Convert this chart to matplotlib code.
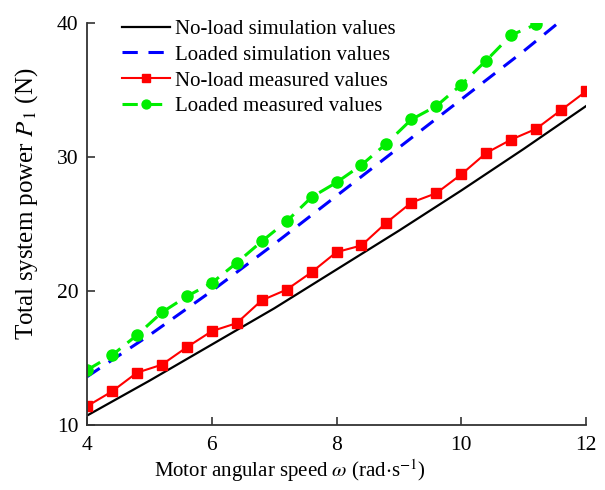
import matplotlib
matplotlib.use("Agg")
import matplotlib.pyplot as plt

plt.rcParams["font.family"] = ["Liberation Serif", "DejaVu Serif"]
plt.rcParams["mathtext.fontset"] = "stix"

# simulation curves, read at integer speeds
sim_speed = [4, 5, 6, 7, 8, 9, 10, 11, 12]
noload_sim = [10.7, 13.3, 16.0, 18.7, 21.6, 24.5, 27.5, 30.6, 33.8]
loaded_sim = [13.6, 16.7, 20.0, 23.5, 27.1, 30.7, 34.3, 37.9, 41.7]

# measured points, every 0.4 rad/s
meas_speed = [4.0, 4.4, 4.8, 5.2, 5.6, 6.0, 6.4, 6.8, 7.2, 7.6, 8.0,
              8.4, 8.8, 9.2, 9.6, 10.0, 10.4, 10.8, 11.2, 11.6, 12.0]
noload_meas = [11.4, 12.5, 13.9, 14.5, 15.8, 17.0, 17.6, 19.3, 20.1, 21.4, 22.9,
               23.4, 25.1, 26.6, 27.3, 28.7, 30.3, 31.3, 32.1, 33.5, 34.9]
loaded_meas = [14.1, 15.2, 16.7, 18.4, 19.6, 20.6, 22.1, 23.7, 25.2, 27.0, 28.1,
               29.4, 31.0, 32.8, 33.8, 35.4, 37.2, 39.1, 39.9]

fig = plt.figure(figsize=(6.05, 4.90), dpi=100)
ax = fig.add_axes([0.1438, 0.1327, 0.8248, 0.8203])

ax.plot(sim_speed, noload_sim, color="black", lw=1.6, label="No-load simulation values")
ax.plot(sim_speed, loaded_sim, color="#0000ff", lw=2.2, dashes=(5, 3.5), label="Loaded simulation values")
ax.plot(meas_speed, noload_meas, color="#ff0000", lw=1.5, marker="s", ms=7,
        label="No-load measured values")
ax.plot(meas_speed[:len(loaded_meas)], loaded_meas, color="#00ee00", lw=2.2, dashes=(5, 3),
        marker="o", ms=8, label="Loaded measured values")

ax.set_xlim(4, 12)
ax.set_ylim(10, 40)
ax.set_xticks([4, 6, 8, 10, 12])
ax.set_yticks([10, 20, 30, 40])
ax.spines["top"].set_visible(False)
ax.spines["right"].set_visible(False)
for s in ("left", "bottom"):
    ax.spines[s].set_linewidth(1.3)
    ax.spines[s].set_color("#333333")
ax.tick_params(direction="in", length=6, width=1.2, labelsize=15.5, colors="#333333",
               labelcolor="black")
ax.tick_params(axis="x", pad=8)
ax.tick_params(axis="y", pad=6)

ax.set_xlabel(r"Motor angular speed $\omega$ (rad$\cdot$s$^{-1}$)", fontsize=15)
ax.set_ylabel(r"Total system power $P_{\,1}$ (N)", fontsize=18)
ax.xaxis.set_label_coords(0.407, -0.08)
ax.yaxis.set_label_coords(-0.094, 0.55)

ax.legend(loc="upper left", frameon=False, fontsize=15, handlelength=2.3,
          bbox_to_anchor=(0.033, 1.056), labelspacing=0.3, handletextpad=0.24,
          markerscale=0.8)

fig.savefig("out.png", dpi=100)
